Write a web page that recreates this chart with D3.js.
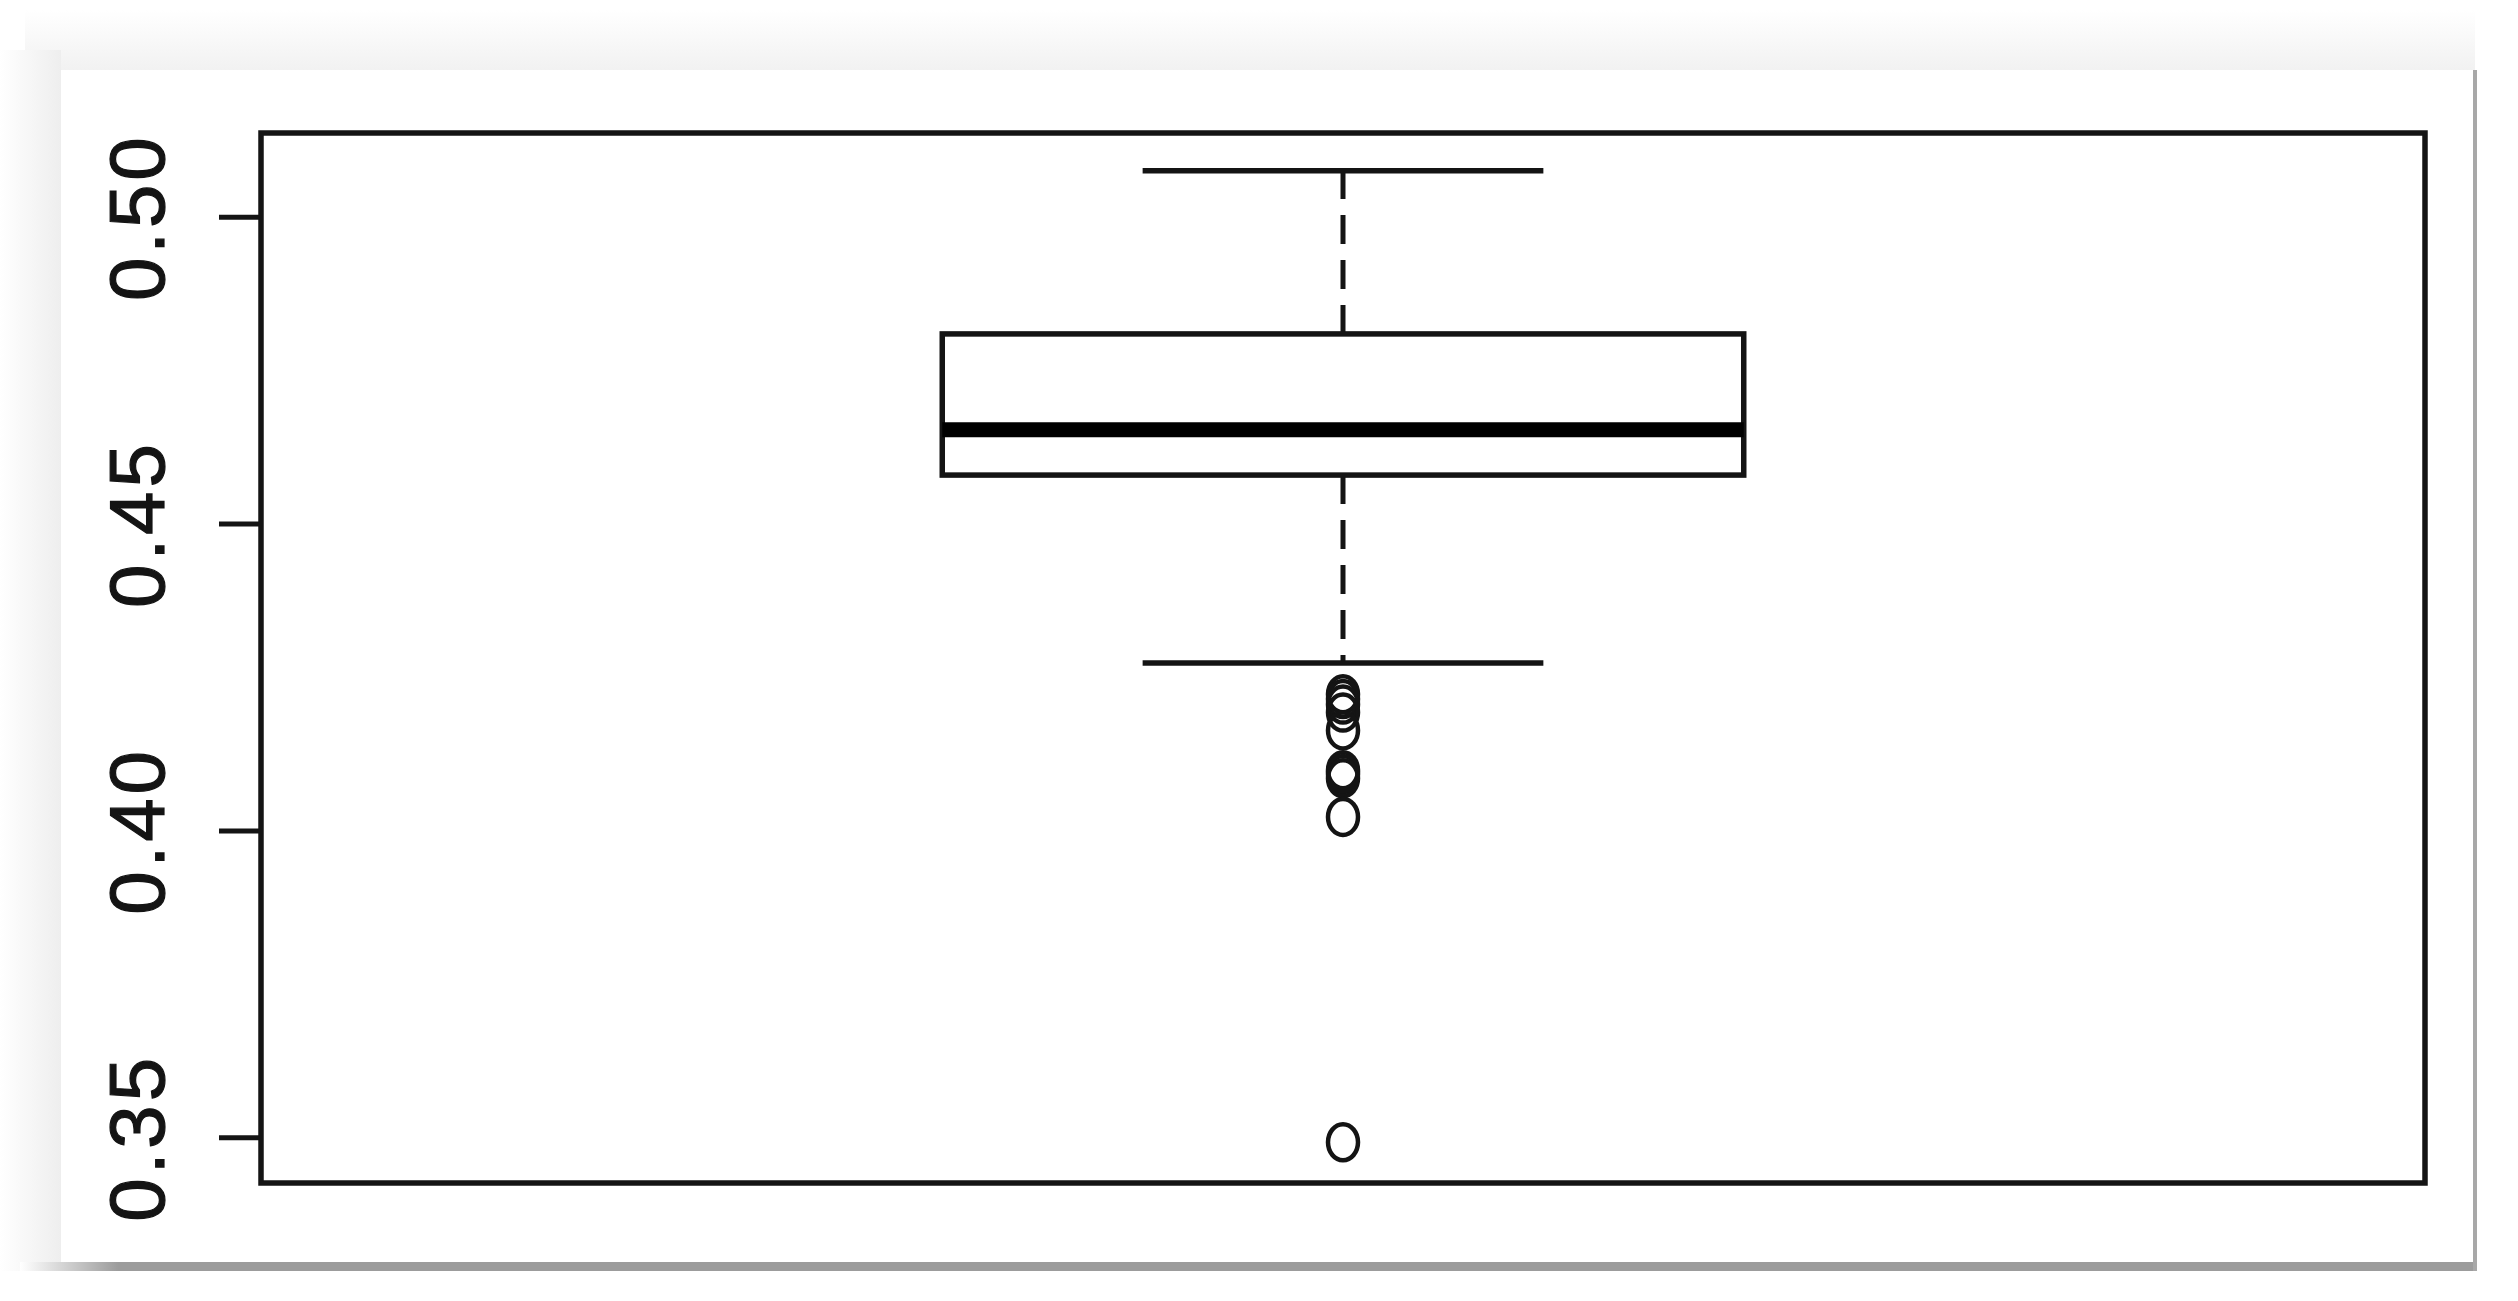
<!DOCTYPE html>
<html>
<head>
<meta charset="utf-8">
<script src="https://cdn.jsdelivr.net/npm/d3@7"></script>
<style>
  html, body { margin: 0; padding: 0; background: #ffffff; }
  svg { display: block; }
</style>
</head>
<body>
<script>
// ---- data ----
const categories = ["1"];
// lower whisker, Q1, median, Q3, upper whisker
const boxStats = [0.4273, 0.4579, 0.4653, 0.4809, 0.5075];
const outliers = [0.4222, 0.4214, 0.4205, 0.4192, 0.4163, 0.4098, 0.4092, 0.4085, 0.4022, 0.3492];
const yTicks = [0.35, 0.40, 0.45, 0.50];
const yTickLabels = ["0.35", "0.40", "0.45", "0.50"];

// ---- layout ----
const W = 2518, H = 1301;
const plot = { left: 261, right: 2425, top: 133, bottom: 1183 };
const ink = "#141414";

const svg = d3.select("body").append("svg").attr("width", W).attr("height", H);
const defs = svg.append("defs");

const gTop = defs.append("linearGradient").attr("id", "gTop").attr("x1", 0).attr("y1", 0).attr("x2", 0).attr("y2", 1);
gTop.append("stop").attr("offset", "0%").attr("stop-color", "#ffffff");
gTop.append("stop").attr("offset", "100%").attr("stop-color", "#f1f1f1");
const gLeft = defs.append("linearGradient").attr("id", "gLeft").attr("x1", 0).attr("y1", 0).attr("x2", 1).attr("y2", 0);
gLeft.append("stop").attr("offset", "0%").attr("stop-color", "#ffffff");
gLeft.append("stop").attr("offset", "100%").attr("stop-color", "#eeeeee");
const gBot = defs.append("linearGradient").attr("id", "gBot").attr("x1", 0).attr("y1", 0).attr("x2", 1).attr("y2", 0);
gBot.append("stop").attr("offset", "0%").attr("stop-color", "#ffffff");
gBot.append("stop").attr("offset", "4%").attr("stop-color", "#9c9c9c");
gBot.append("stop").attr("offset", "100%").attr("stop-color", "#9c9c9c");

// page shadows around the white panel
svg.append("rect").attr("x", 0).attr("y", 0).attr("width", W).attr("height", H).attr("fill", "#ffffff");
svg.append("rect").attr("x", 25).attr("y", 10).attr("width", 2450).attr("height", 62).attr("fill", "url(#gTop)");
svg.append("rect").attr("x", 0).attr("y", 50).attr("width", 61).attr("height", 1221).attr("fill", "url(#gLeft)");
svg.append("rect").attr("x", 20).attr("y", 1262).attr("width", 2457).attr("height", 9).attr("fill", "url(#gBot)");
svg.append("rect").attr("x", 2473).attr("y", 70).attr("width", 4).attr("height", 1201).attr("fill", "#a8a8a8");
svg.append("rect").attr("x", 61).attr("y", 70).attr("width", 2412).attr("height", 1192).attr("fill", "#ffffff");

// ---- scales ----
const x = d3.scaleLinear().domain([0.46, 1.54]).range([plot.left, plot.right]);
const y = d3.scaleLinear().domain([0.35, 0.50]).range([1137.3, 216.7]);
const xc = x(1);
const half = x(1.2) - x(1);
const staple = x(1.1) - x(1);

// ---- y axis ----
const axis = d3.axisLeft(y).tickValues(yTicks)
  .tickFormat((d, i) => yTickLabels[i]).tickSize(42).tickPadding(0);
const ga = svg.append("g").attr("transform", `translate(${plot.left},0)`).call(axis);
ga.select(".domain").remove();
ga.selectAll(".tick line").attr("stroke", ink).attr("stroke-width", 5);
ga.selectAll(".tick text")
  .attr("transform", "rotate(-90)")
  .attr("x", 0).attr("y", -97).attr("dy", null)
  .attr("text-anchor", "middle")
  .attr("fill", ink)
  .attr("stroke", ink).attr("stroke-width", 1.2)
  .style("font-family", "'Liberation Sans', Arial, sans-serif")
  .style("font-size", "78px")
  .style("letter-spacing", "4px");

// ---- box plot ----
const g = svg.append("g").attr("fill", "none").attr("stroke", ink);

// whiskers (dashed), drawn from box outward
g.append("line").attr("x1", xc).attr("x2", xc).attr("y1", y(boxStats[3])).attr("y2", y(boxStats[4]))
  .attr("stroke-width", 5).attr("stroke-dasharray", "29,16");
g.append("line").attr("x1", xc).attr("x2", xc).attr("y1", y(boxStats[1])).attr("y2", y(boxStats[0]))
  .attr("stroke-width", 5).attr("stroke-dasharray", "29,16");

// staples
[boxStats[0], boxStats[4]].forEach(v => {
  g.append("line").attr("x1", xc - staple).attr("x2", xc + staple).attr("y1", y(v)).attr("y2", y(v))
    .attr("stroke-width", 5.5);
});

// box
g.append("rect").attr("x", xc - half).attr("y", y(boxStats[3]))
  .attr("width", 2 * half).attr("height", y(boxStats[1]) - y(boxStats[3]))
  .attr("stroke-width", 5.5).attr("fill", "#ffffff");

// median
g.append("line").attr("x1", xc - half).attr("x2", xc + half)
  .attr("y1", y(boxStats[2])).attr("y2", y(boxStats[2]))
  .attr("stroke", "#000").attr("stroke-width", 15);

// outliers
g.selectAll("ellipse.out").data(outliers).join("ellipse").attr("class", "out")
  .attr("cx", xc).attr("cy", d => y(d)).attr("rx", 15).attr("ry", 18)
  .attr("stroke-width", 4.5);

// plot frame
svg.append("rect").attr("x", plot.left).attr("y", plot.top)
  .attr("width", plot.right - plot.left).attr("height", plot.bottom - plot.top)
  .attr("fill", "none").attr("stroke", ink).attr("stroke-width", 5.5);
</script>
</body>
</html>
